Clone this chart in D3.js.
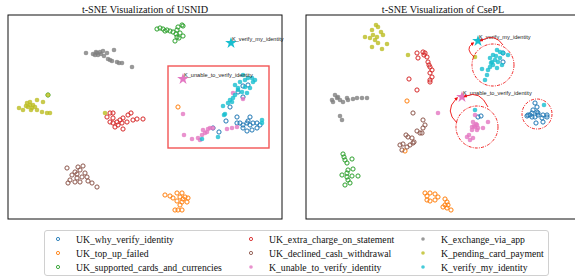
<!DOCTYPE html>
<html><head><meta charset="utf-8">
<script src="https://cdn.jsdelivr.net/npm/d3@7/dist/d3.min.js"></script>
<style>body{margin:0;background:#fff}svg{display:block}</style>
</head><body><svg id="c" width="575" height="277"></svg>
<script>
// ---- data (embedding units, x right, y up) ----
const categories = ["UK_why_verify_identity","UK_top_up_failed","UK_supported_cards_and_currencies",
 "UK_extra_charge_on_statement","UK_declined_cash_withdrawal","K_unable_to_verify_identity",
 "K_exchange_via_app","K_pending_card_payment","K_verify_my_identity"];
const colors = ["#1f77b4","#ff7f0e","#2ca02c","#d62728","#8c564b","#e377c2","#7f7f7f","#bcbd22","#17becf"];
const openMarker = [true,true,true,true,true,false,false,false,false];
const panelTitles = ["t-SNE Visualization of USNID","t-SNE Visualization of CsePL"];

// USNID panel
const usnidWhy = [[235,133],[240,134],[230,127],[235,122],[222,112],[229,102],[218,98],[242,102],[240,98],[232,96],[235,94],[239,96],[242,94],[245,96],[249,96],[252,94],[244,89],[239,88],[249,91],[235,91],[205,91],[211,87],[229,96]];
const usnidTopUp = [[170,112],[157,24],[162,23],[169,26],[174,26],[165,21],[172,22],[177,22],[180,21],[169,18],[174,17],[179,17],[172,14],[167,9],[170,9],[174,9],[175,20]];
const usnidCards = [[149,190],[152,191],[155,190],[159,189],[162,188],[165,187],[169,189],[170,192],[174,194],[175,193],[172,186],[169,182],[167,178],[175,183],[171,181],[157,188],[168,185],[40,124]];
const usnidExtra = [[102,106],[105,106],[99,102],[102,97],[105,96],[109,97],[112,99],[115,101],[120,104],[123,106],[125,99],[129,100],[135,100],[115,90],[107,92],[110,94],[119,97],[105,101],[114,96]];
const usnidDeclined = [[59,51],[70,52],[75,53],[67,47],[72,49],[64,44],[69,45],[74,42],[79,42],[62,39],[67,37],[72,37],[80,38],[84,36],[89,32],[60,36],[77,46],[69,41]];
const usnidUnable = [[225,126],[235,120],[175,105],[205,91],[200,90],[195,89],[197,86],[194,84],[190,81],[184,80],[176,84],[219,90],[224,91],[229,92],[192,79],[199,87],[202,91]];
const usnidExchange = [[78,166],[85,165],[89,166],[92,167],[95,168],[99,166],[106,169],[100,160],[104,158],[109,157],[114,156],[124,152],[87,164],[90,164],[93,165],[96,163],[88,167],[102,159],[111,156]];
const usnidPending = [[11,111],[15,109],[19,116],[22,117],[25,114],[24,111],[29,119],[29,109],[34,107],[39,106],[42,106],[35,117],[20,112],[27,112],[22,114],[18,113],[23,109],[40,124],[97,106]];
const usnidVerify = [[227,134],[232,137],[237,139],[240,141],[244,141],[247,139],[235,144],[230,131],[234,127],[239,126],[242,131],[227,124],[225,121],[224,117],[220,116],[215,113],[217,105],[222,119],[237,132],[245,137],[254,99],[254,96],[210,82],[194,80],[230,129],[216,104]];

// CsePL panel
const csepWhy = [[197,166],[197,157],[172,102],[175,103],[222,104],[226,106],[231,107],[232,104],[237,104],[241,102],[229,102],[226,102],[236,101],[230,96],[237,97],[221,103],[229,116],[231,112],[227,109],[232,106],[224,104],[241,104]];
const csepTopUp = [[101,118],[99,68],[119,26],[121,23],[124,26],[129,25],[132,22],[121,19],[124,18],[129,19],[139,20],[141,17],[139,14],[141,11],[145,9],[137,12],[142,14]];
const csepCards = [[37,65],[38,62],[39,59],[41,56],[46,60],[42,49],[47,50],[36,44],[41,42],[46,43],[52,43],[42,39],[44,36],[39,34],[41,46]];
const csepExtra = [[111,166],[117,167],[119,166],[121,162],[112,161],[122,157],[124,152],[126,149],[124,146],[126,142],[124,139],[124,137],[103,140],[111,129],[118,164],[123,154]];
const csepDeclined = [[107,106],[117,99],[119,94],[117,91],[116,86],[114,86],[100,84],[102,82],[106,81],[108,77],[104,74],[97,75],[94,74],[96,69],[101,72],[107,76],[111,88]];
const csepUnable = [[169,104],[167,97],[166,92],[169,92],[171,94],[172,91],[177,91],[182,97],[161,82],[164,79],[167,81],[166,89],[171,89],[132,106],[168,93],[170,95],[163,84]];
const csepExchange = [[26,119],[31,121],[34,119],[37,117],[42,119],[47,120],[51,121],[56,121],[61,121],[29,124],[32,122],[41,121],[27,117],[34,103],[36,99]];
const csepPending = [[70,194],[72,192],[66,189],[75,187],[77,184],[59,182],[64,181],[69,179],[72,176],[81,175],[66,172],[76,170],[67,184],[71,182],[102,164],[169,162]];
const csepVerify = [[191,169],[194,167],[197,166],[202,164],[187,164],[184,161],[186,157],[189,159],[184,152],[182,149],[192,157],[196,154],[191,151],[176,150],[181,144],[179,139],[187,154],[194,161],[169,109],[238,114],[185,156],[190,163]];

// prototype stars: [category index, x, y, label]
const usnidStars = [[8,223,176,"K_verify_my_identity"],[5,175,140,"K_unable_to_verify_identity"]];
const csepStars = [[8,172,178,"K_verify_my_identity"],[5,156,122,"K_unable_to_verify_identity"]];
// annotations
const usnidBox = [160,71,261,153];            // x0,y0,x1,y1
const csepCircles = [[187,154,21],[171,92,21],[231,105,15]]; // cx,cy,r
// arrows: [x0,y0, cx,cy, x1,y1] (arrow head at start)
const csepArcs = [[176,179, 189,186, 197,174],[166,175, 159,170, 168,162],
                  [160,123, 174,129, 182,112],[150,120, 138,108, 151,96]];

const usnidSeries = [usnidWhy,usnidTopUp,usnidCards,usnidExtra,usnidDeclined,usnidUnable,usnidExchange,usnidPending,usnidVerify];
const csepSeries = [csepWhy,csepTopUp,csepCards,csepExtra,csepDeclined,csepUnable,csepExchange,csepPending,csepVerify];

// ---- drawing ----
const svg = d3.select("#c");
const defs = svg.append("defs");
defs.append("marker").attr("id","ah").attr("viewBox","0 0 10 10").attr("refX",2).attr("refY",5)
  .attr("markerWidth",4).attr("markerHeight",4).attr("orient","auto-start-reverse")
  .append("path").attr("d","M0,0L10,5L0,10z").attr("fill","#ee1111");

const panels = [
  {left:8, series:usnidSeries, stars:usnidStars, title:panelTitles[0]},
  {left:306, series:csepSeries, stars:csepStars, title:panelTitles[1]}
];
const plotTop = 15, plotBottom = 219, W = 274;

panels.forEach((p, pi) => {
  const x = d3.scaleLinear().domain([0, W]).range([p.left, p.left + W]);
  const y = d3.scaleLinear().domain([0, 204]).range([plotBottom, plotTop]);
  const g = svg.append("g");
  g.append("text").attr("x", p.left + W/2).attr("y", 13).attr("text-anchor","middle")
    .attr("font-family","'Liberation Serif','Times New Roman',serif").attr("font-size",10.2)
    .attr("fill","#111").text(p.title);
  p.series.forEach((pts, ci) => {
    const sel = g.append("g").selectAll("circle").data(pts).join("circle")
      .attr("cx", d => x(d[0])).attr("cy", d => y(d[1])).attr("r", openMarker[ci] ? 2.1 : 2.3);
    if (openMarker[ci]) sel.attr("fill","none").attr("stroke",colors[ci]).attr("stroke-width",1);
    else sel.attr("fill",colors[ci]).attr("fill-opacity",0.8);
  });
  // stars
  p.stars.forEach(s => {
    g.append("path").attr("d", d3.symbol(d3.symbolStar, 42)())
      .attr("transform", `translate(${x(s[1])},${y(s[2])})`).attr("fill", colors[s[0]]);
    g.append("text").attr("x", x(s[1]) + 1).attr("y", y(s[2]) - 2.5)
      .attr("font-family","'Liberation Sans',Arial,sans-serif").attr("font-size",5.6)
      .attr("fill","#222").text(s[3]);
  });
  if (pi === 0) {
    g.append("rect").attr("x", x(usnidBox[0])).attr("y", y(usnidBox[3]))
      .attr("width", x(usnidBox[2]) - x(usnidBox[0])).attr("height", y(usnidBox[1]) - y(usnidBox[3]))
      .attr("fill","none").attr("stroke","#f25555").attr("stroke-width",1.4);
  } else {
    csepCircles.forEach(c => {
      g.append("circle").attr("cx", x(c[0])).attr("cy", y(c[1])).attr("r", x(c[2]) - x(0))
        .attr("fill","none").attr("stroke","#ee1111").attr("stroke-width",0.9)
        .attr("stroke-dasharray","3,1.2,1,1.2");
    });
    csepArcs.forEach(a => {
      g.append("path").attr("d", `M${x(a[0])},${y(a[1])}Q${x(a[2])},${y(a[3])} ${x(a[4])},${y(a[5])}`)
        .attr("fill","none").attr("stroke","#ee1111").attr("stroke-width",0.9)
        .attr("marker-start","url(#ah)");
    });
  }
  g.append("rect").attr("x", p.left).attr("y", plotTop).attr("width", W).attr("height", plotBottom - plotTop)
    .attr("fill","none").attr("stroke","#111").attr("stroke-width",1);
});

// legend
const lg = svg.append("g");
lg.append("rect").attr("x",44.5).attr("y",230.5).attr("width",504).attr("height",45).attr("rx",2.5)
  .attr("fill","#fff").attr("stroke","#d0d0d0").attr("stroke-width",1);
const colX = [58, 251, 423], rowY = [239, 253, 267];
categories.forEach((c, i) => {
  const cx = colX[Math.floor(i/3)], cy = rowY[i % 3];
  const m = lg.append("circle").attr("cx", cx).attr("cy", cy).attr("r", openMarker[i] ? 1.6 : 1.8);
  if (openMarker[i]) m.attr("fill","none").attr("stroke",colors[i]).attr("stroke-width",0.9);
  else m.attr("fill",colors[i]).attr("fill-opacity",0.8);
  lg.append("text").attr("x", cx + 18).attr("y", cy + 3.5)
    .attr("font-family","'Liberation Serif','Times New Roman',serif").attr("font-size",9.7)
    .attr("fill","#111").text(c);
});
</script></body></html>
